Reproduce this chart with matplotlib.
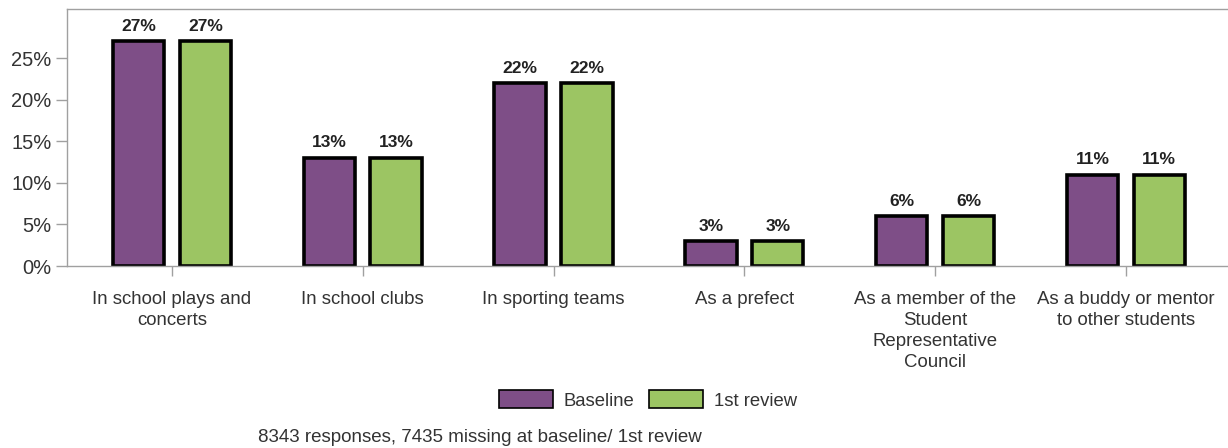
import matplotlib
matplotlib.use("Agg")
import matplotlib.pyplot as plt
import numpy as np
from matplotlib.patches import Patch

categories = ["In school plays and\nconcerts", "In school clubs", "In sporting teams",
              "As a prefect", "As a member of the\nStudent\nRepresentative\nCouncil",
              "As a buddy or mentor\nto other students"]
baseline = [27, 13, 22, 3, 6, 11]
review1 = [27, 13, 22, 3, 6, 11]
series_names = ["Baseline", "1st review"]
yticks = [0, 5, 10, 15, 20, 25]
footnote = "8343 responses, 7435 missing at baseline/ 1st review"

plt.rcParams['font.family'] = ['Liberation Sans', 'DejaVu Sans']
purple = "#7E4E87"
green = "#9CC563"
gray = "#A0A0A0"
txt = "#333333"

fig = plt.figure(figsize=(12.28, 4.48), dpi=100)
ax = fig.add_axes([67/1228, 1 - 266/448, (1228 - 67)/1228, (266 - 9)/448])

x = np.arange(len(categories))
w = 0.27
off = 0.175
b1 = ax.bar(x - off, baseline, w, color=purple, edgecolor="black", linewidth=2.6)
b2 = ax.bar(x + off, review1, w, color=green, edgecolor="black", linewidth=2.6)
for bars, vals in ((b1, baseline), (b2, review1)):
    for r, v in zip(bars, vals):
        ax.text(r.get_x() + r.get_width()/2, v + 0.9, f"{v}%", ha="center", va="bottom",
                fontsize=12.5, fontweight="bold", color="#222222")

ax.set_xlim(-0.55, 5.535)
ax.set_ylim(0, 30.9)
ax.set_yticks(yticks)
ax.set_yticklabels([f"{t}%" for t in yticks], fontsize=14.5, color=txt)
ax.set_xticks(x)
ax.set_xticklabels(categories, fontsize=13.4, color=txt, linespacing=1.32)
ax.tick_params(axis="y", length=8, color=gray, width=1, pad=3)
ax.tick_params(axis="x", length=7, color=gray, width=1, pad=11)
for s in ["left", "top", "bottom"]:
    ax.spines[s].set_color(gray)
    ax.spines[s].set_linewidth(1)
ax.spines["right"].set_visible(False)

handles = [Patch(facecolor=purple, edgecolor="black", linewidth=1.2),
           Patch(facecolor=green, edgecolor="black", linewidth=1.2)]
fig.legend(handles, series_names, loc="center", bbox_to_anchor=(648/1228, 1 - 400/448),
           ncol=2, frameon=False, fontsize=13.3, handlelength=2.9, handleheight=1.1,
           handletextpad=0.6, columnspacing=0.8, labelcolor=txt)
fig.text(258/1228, 1 - 437/448, footnote, ha="left", va="center", fontsize=13.5, color=txt)

fig.savefig("out.png", dpi=100)
